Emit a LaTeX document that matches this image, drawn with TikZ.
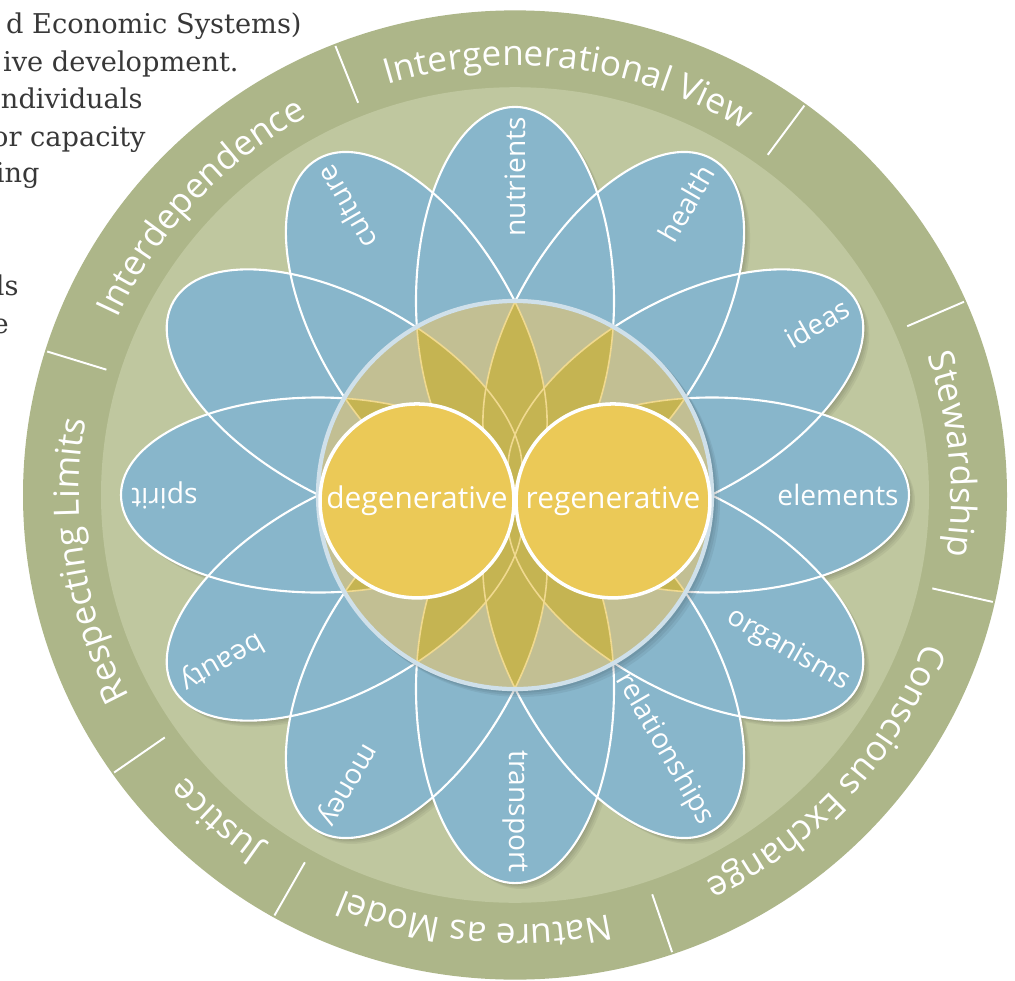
\documentclass[tikz,border=0pt]{standalone}
\usepackage{fontspec}
\setmainfont{Open Sans}
\newfontfamily\parafont{DejaVu Serif}
\usetikzlibrary{decorations.text}

\definecolor{ringgreen}{HTML}{ADB689}
\definecolor{innergreen}{HTML}{BFC79F}
\definecolor{petalblue}{HTML}{88B6CB}
\definecolor{disctan}{HTML}{C2BF93}
\definecolor{lensgold}{HTML}{C5B452}
\definecolor{sunyellow}{HTML}{EBC957}
\definecolor{paleline}{HTML}{F0D98F}
\definecolor{discedge}{HTML}{CFE0EA}
\definecolor{paratext}{HTML}{383838}

\newcommand{\ringfont}{\fontsize{20}{24}\selectfont}

\begin{document}
\begin{tikzpicture}[x=0.02cm, y=0.02cm,
        petal/.style={fill=petalblue},
        petalline/.style={draw=white, line width=1.2pt},
        lensline/.style={draw=paleline, line width=0.9pt},
        petallabel/.style={text=white, anchor=east, inner sep=0pt, font=\fontsize{16}{18}\selectfont},
        sunball/.style={circle, minimum size=3.88cm, inner sep=0pt, fill=sunyellow,
                        draw=white, line width=2pt, text=white, font=\fontsize{17}{20}\selectfont},
        divider/.style={draw=white, line width=1.1pt},
        ringlabel/.style={decorate, decoration={text along path, text align=center, text color=white}},
        paraline/.style={anchor=base east, inner sep=0pt, text=paratext, font=\parafont\fontsize{15.5}{19}\selectfont},
        ]
    \useasboundingbox (0,0) rectangle (1015,-981);

    % line ends of the page text behind the wheel
    \node[paraline] (para1) at (302,-33) {d Economic Systems)};
    \node[paraline] (para2) at (239,-71) {ive development.};
    \node[paraline] (para3) at (143,-108) {ndividuals};
    \node[paraline] (para4) at (146,-146) {or capacity};
    \node[paraline] (para5) at (40,-182) {ing};
    \node[paraline] (para6) at (19,-295) {ls};
    \node[paraline] (para7) at (9,-333) {e};

    \begin{scope}[shift={(515,-495)}, yscale=0.985]
        % outer wheel
        \fill[ringgreen] (0,0) circle (492);
        \fill[innergreen] (0,0) circle (414);
        \foreach \a in {162.7,111.5,53.8,23.6,-12.8,-71.3,-119.4,-144.9}
            \draw[divider] (\a:428) -- (\a:490);
        \foreach \from/\to/\words in {215.1/162.7/Respecting Limits, 162.7/111.5/Interdependence,
                111.5/53.8/Intergenerational View, 23.6/-12.8/Stewardship,
                -12.8/-71.3/Conscious Exchange, -71.3/-119.4/Nature as Model, -119.4/-144.9/Justice}
            \path[ringlabel, decoration={text/.expanded={|\noexpand\ringfont|\words}}]
                (\from:436) arc[start angle=\from, end angle=\to, radius=436];

        % petals
        \foreach \s in {1.5,3,4.5,6}
            \fill[black, opacity=0.05] \foreach \a in {0,30,...,330}
                {([shift={(\s,-\s)}]\a:197) ellipse [x radius=197, y radius=99, rotate=\a]};
        \foreach \a in {0,30,...,330}
            \fill[petal] (\a:197) ellipse [x radius=197, y radius=99, rotate=\a];
        \foreach \a in {0,30,...,330}
            \draw[petalline] (\a:197) ellipse [x radius=197, y radius=99, rotate=\a];

        % centre disc
        \foreach \s in {2,4,6}
            \fill[black, opacity=0.06] (\s,-\s) circle (199);
        \fill[disctan] (0,0) circle (197);
        \foreach \a in {0,30,...,330} {
            \begin{scope}
                \clip (0,0) circle (197);
                \clip ({\a-30}:197) ellipse [x radius=197, y radius=99, rotate=\a-30];
                \fill[lensgold] ({\a+30}:197) ellipse [x radius=197, y radius=99, rotate=\a+30];
            \end{scope}
        }
        \begin{scope}
            \clip (0,0) circle (197);
            \foreach \a in {0,30,...,330}
                \draw[lensline] (\a:197) ellipse [x radius=197, y radius=99, rotate=\a];
        \end{scope}
        \draw[discedge, line width=2.4pt] (0,0) circle (197);

        \node[sunball] (degen) at (-98,-6) {degenerative};
        \node[sunball] (regen) at (98,-6) {regenerative};

        % petal words
        \foreach \a/\word in {0/elements, 30/ideas, 60/health, 90/nutrients, 120/culture, 180/spirit,
                210/beauty, 240/money, 270/transport, 300/relationships, 330/organisms}
            \node[petallabel, rotate=\a] (word\a) at (\a:384) {\word};
    \end{scope}
\end{tikzpicture}
\end{document}
